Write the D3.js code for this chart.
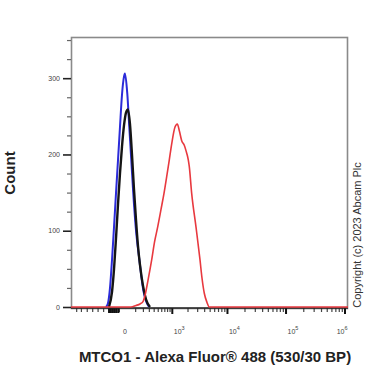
<!DOCTYPE html>
<html>
<head>
<meta charset="utf-8">
<script src="https://cdn.jsdelivr.net/npm/d3@7"></script>
<style>
    body { margin: 0; background: #fff; }
    svg { display: block; font-family: "Liberation Sans", Arial, sans-serif; }
</style>
</head>
<body>
<svg id="chart" width="384" height="384"></svg>
<script>
// ---- data (fluorescence value, event count) ----
// blue: unstained / isotype control
const blueValues = [-187, -159, -133, -109, -87, -67, -48, -31, -15, 0, 7, 25, 42, 60, 80, 106, 150, 206, 249, 303];
const blueCounts = [0, 5, 25, 62, 105, 149, 193, 236, 278, 302, 306, 280, 236, 193, 149, 105, 62, 22, 8, 0];

// black: secondary only control
const blackValues = [-146, -109, -87, -67, -48, -31, -15, 0, 15, 31, 48, 67, 87, 109, 133, 159, 201, 249, 322];
const blackCounts = [0, 20, 50, 90, 135, 175, 210, 238, 255, 259, 240, 200, 155, 115, 80, 55, 28, 10, 0];

// red: MTCO1 stained
const redValues = [57, 109, 159, 201, 232, 284, 357, 419, 499, 593, 689, 786, 890, 995, 1157, 1283, 1415,
    1557, 1742, 1874, 2068, 2158, 2386, 2857, 3370, 3659, 4021, 4487, 4923];
const redCounts = [0, 2, 4, 7, 15, 35, 62, 85, 105, 128, 149, 171, 193, 214, 236, 240, 230,
    218, 212, 205, 193, 184, 149, 105, 62, 38, 18, 6, 0];

// axes
const xDomain = [-1265, 1.147e6];
const yDomain = [0, 354];
const countTicks = [0, 100, 200, 300];
const countMinorTicks = [25, 50, 75, 125, 150, 175, 225, 250, 275, 325, 350];
const decadeTicks = [1e3, 1e4, 1e5, 1e6];
const decadeLabels = ["3", "4", "5", "6"];
const decadeMultipliers = [2, 3, 4, 5, 6, 7, 8, 9];
const negativeTicks = [-1000, -800, -600, -450, -330, -230, -150, -90, -40];
const zeroClusterTicks = [-150, -130, -110, -90, -70, -50];

const xTitle = "MTCO1 - Alexa Fluor\u00AE 488 (530/30 BP)";
const yTitle = "Count";
const copyright = "Copyright (c) 2023 Abcam Plc";

/** Class representing the flow cytometry histogram overlay. */
class FlowHistogram {
    constructor(svgId) {
        this.svg = d3.select(svgId);
        this.left = 71;
        this.right = 348;
        this.top = 37;
        this.bottom = 308;

        // biexponential-like axis -> symlog scale
        this.xscale = d3.scaleSymlog()
            .constant(183)
            .domain(xDomain)
            .range([this.left, this.right]);

        this.yscale = d3.scaleLinear()
            .domain(yDomain)
            .range([this.bottom - 1, this.top]);

        this.svg.append("defs").append("clipPath").attr("id", "plot-clip")
            .append("rect")
            .attr("x", this.left)
            .attr("y", this.top - 2)
            .attr("width", this.right - this.left)
            .attr("height", this.bottom - this.top + 2);

        this.drawFrame();
        this.drawAxes();

        // draw each histogram
        this.curves = this.svg.append("g").attr("clip-path", "url(#plot-clip)");
        this.drawCurve(blueValues, blueCounts, "#2b2bd9", 2);
        this.drawCurve(blackValues, blackCounts, "#151515", 2.4);
        // red sits on the baseline across the whole range
        this.drawCurve([xDomain[0]].concat(redValues, [xDomain[1]]),
            [0].concat(redCounts, [0]), "#e8393f", 1.6);

        this.drawTitles();
    }

    drawFrame() {
        this.svg.append("rect")
            .attr("x", this.left + 0.5)
            .attr("y", this.top + 0.5)
            .attr("width", this.right - this.left - 1)
            .attr("height", this.bottom - this.top)
            .attr("fill", "none")
            .attr("stroke", "#8a8a8a")
            .attr("stroke-width", 1.6);
    }

    drawAxes() {
        //----------------------------
        // y axis
        let yMinor = d3.axisLeft(this.yscale)
            .tickValues(countMinorTicks)
            .tickSize(4)
            .tickFormat("");
        let ymg = this.svg.append("g")
            .attr("transform", `translate(${this.left}, 0)`)
            .call(yMinor);
        ymg.select(".domain").remove();
        ymg.selectAll("line").attr("stroke", "#666").attr("stroke-width", 1.2);

        let yAxis = d3.axisLeft(this.yscale)
            .tickValues(countTicks)
            .tickSize(8)
            .tickPadding(3);
        let yg = this.svg.append("g")
            .attr("transform", `translate(${this.left}, 0)`)
            .call(yAxis);
        yg.select(".domain").remove();
        yg.selectAll("line").attr("stroke", "#222").attr("stroke-width", 1.6);
        yg.selectAll("text")
            .attr("font-size", "7px")
            .attr("fill", "#444")
            .attr("font-family", "Liberation Sans, Arial, sans-serif");

        //----------------------------
        // x axis
        let minorValues = [100, 200, 300, 400, 500, 600, 700, 800, 900];
        decadeTicks.slice(0, 3).forEach(d => {
            decadeMultipliers.forEach(m => minorValues.push(d * m));
        });
        minorValues = minorValues.concat(negativeTicks);

        let xMinor = d3.axisBottom(this.xscale)
            .tickValues(minorValues)
            .tickSize(4)
            .tickFormat("");
        let xmg = this.svg.append("g")
            .attr("transform", `translate(0, ${this.bottom})`)
            .call(xMinor);
        xmg.select(".domain").remove();
        xmg.selectAll("line").attr("stroke", "#444").attr("stroke-width", 1.2);

        // heavy cluster of ticks right below zero
        let xZero = d3.axisBottom(this.xscale)
            .tickValues(zeroClusterTicks)
            .tickSize(5)
            .tickFormat("");
        let xzg = this.svg.append("g")
            .attr("transform", `translate(0, ${this.bottom})`)
            .call(xZero);
        xzg.select(".domain").remove();
        xzg.selectAll("line").attr("stroke", "#111").attr("stroke-width", 2.2);

        let xAxis = d3.axisBottom(this.xscale)
            .tickValues(decadeTicks)
            .tickSize(6)
            .tickFormat("");
        let xg = this.svg.append("g")
            .attr("transform", `translate(0, ${this.bottom})`)
            .call(xAxis);
        xg.select(".domain").remove();
        xg.selectAll("line").attr("stroke", "#111").attr("stroke-width", 2);

        // axis line
        this.svg.append("line")
            .attr("x1", this.left)
            .attr("x2", this.right)
            .attr("y1", this.bottom)
            .attr("y2", this.bottom)
            .attr("stroke", "#222")
            .attr("stroke-width", 1.6);

        // tick labels: 0 and powers of ten
        let labels = this.svg.append("g")
            .attr("font-size", "7px")
            .attr("fill", "#444");
        labels.append("text")
            .attr("x", this.xscale(0) + 1)
            .attr("y", 334)
            .attr("text-anchor", "middle")
            .text("0");
        decadeTicks.forEach((d, i) => {
            let last = i === decadeTicks.length - 1;
            let t = labels.append("text")
                .attr("x", this.xscale(d) + (last ? 3 : 2))
                .attr("y", 334)
                .attr("text-anchor", last ? "end" : "start");
            t.append("tspan").text("10");
            t.append("tspan").attr("dy", -4).attr("font-size", "5.5px").text(decadeLabels[i]);
        });
    }

    drawCurve(values, counts, color, width) {
        let points = values.map((v, i) => [v, counts[i]]);
        let lineGenerator = d3.line()
            .x(d => this.xscale(d[0]))
            .y(d => this.yscale(d[1]))
            .curve(d3.curveMonotoneX);

        this.curves.append("path")
            .datum(points)
            .attr("d", lineGenerator)
            .style("fill", "none")
            .style("stroke", color)
            .style("stroke-width", width)
            .style("stroke-linejoin", "round");
    }

    drawTitles() {
        this.svg.append("text")
            .attr("x", 215)
            .attr("y", 362)
            .attr("text-anchor", "middle")
            .attr("font-size", "15px")
            .attr("font-weight", "bold")
            .attr("fill", "#222")
            .text(xTitle);

        this.svg.append("text")
            .attr("transform", "translate(15, 173) rotate(-90)")
            .attr("text-anchor", "middle")
            .attr("font-size", "15px")
            .attr("font-weight", "bold")
            .attr("fill", "#222")
            .text(yTitle);

        this.svg.append("text")
            .attr("transform", "translate(361, 235) rotate(-90)")
            .attr("text-anchor", "middle")
            .attr("font-size", "11px")
            .attr("fill", "#333")
            .text(copyright);
    }
}

new FlowHistogram("#chart");
</script>
</body>
</html>
